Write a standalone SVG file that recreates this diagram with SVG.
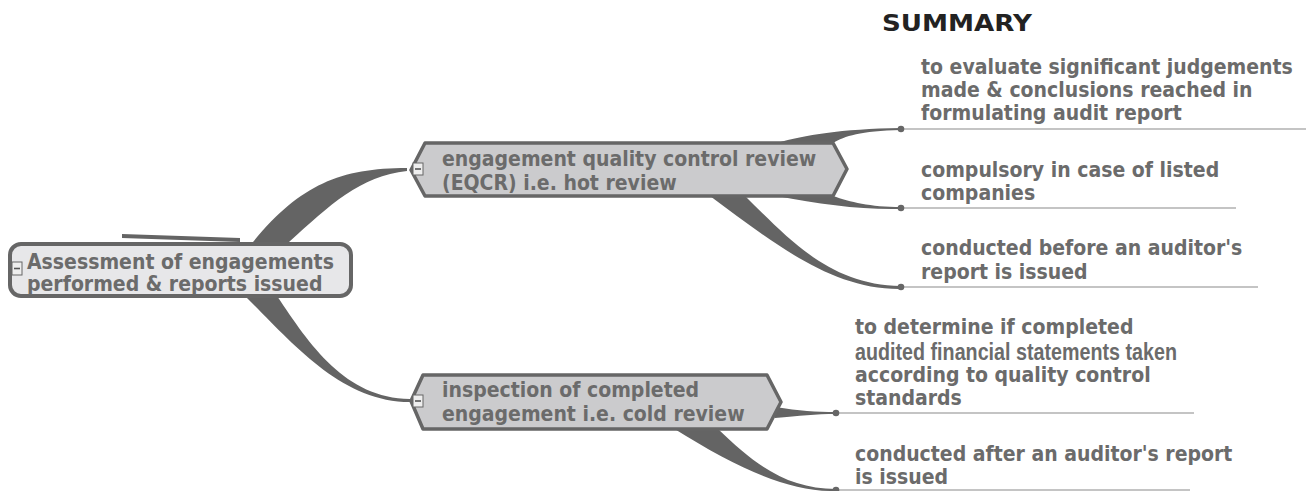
<svg xmlns="http://www.w3.org/2000/svg" width="1306" height="491" viewBox="0 0 1306 491">
<style>
.t{font-family:"DejaVu Sans Condensed","DejaVu Sans",sans-serif;font-weight:bold;font-size:21px;fill:#6b6b6b}
.n{font-family:"Liberation Sans Narrow","Liberation Sans",sans-serif;font-weight:bold;font-size:23px;fill:#6b6b6b}
.br{fill:#646464;stroke:none}
.ul{stroke:#8a8a8a;stroke-width:1.2;fill:none}
.dot{fill:#666}
.node{fill:#cbcbcd;stroke:#666;stroke-width:3.5;stroke-linejoin:round}
.root{fill:#e7e7e9;stroke:#666;stroke-width:4}
.tg{fill:#eee;stroke:#666;stroke-width:1}
.tgm{stroke:#555;stroke-width:1.6}
</style>
<rect width="1306" height="491" fill="#fff"/>
<text x="882" y="31" font-family="'DejaVu Sans',sans-serif" font-weight="bold" font-size="23" fill="#222" textLength="150" lengthAdjust="spacingAndGlyphs">SUMMARY</text>
<g id="connectors">
<path class="br" d="M253,242 C300,185 340,168 407,168 L407,171 C360,176 330,205 289,242 Z"/>
<path class="br" d="M122,234 L240,238 L240,242 L122,238 Z"/>
<path class="br" d="M245,296 L277,296 C310,345 345,398 410,399 L410,402 C340,402 290,340 245,296 Z"/>
<path class="br" d="M777,143 C805,135 840,129 901,128 L901,130 C860,131 845,136 833,143 Z"/>
<path class="br" d="M777,196 L833,196 C850,202 870,207 901,207 L901,209 C860,210 820,204 777,196 Z"/>
<path class="br" d="M710,196 L745,196 C790,240 830,285 901,286 L901,289 C830,290 770,240 710,196 Z"/>
<path class="br" d="M775,407 C800,411 815,412 836,412 L836,414 C815,414 800,416 775,418 Z"/>
<path class="br" d="M673,428 L717,428 C760,470 790,488 836,489 L836,491 C790,492 740,470 673,428 Z"/>
</g>
<g id="root">
<rect class="root" x="10" y="244" width="341" height="52" rx="11"/>
<rect class="tg" x="12" y="262" width="10" height="13"/>
<line class="tgm" x1="14" y1="268.5" x2="20" y2="268.5"/>
<text class="t" x="27" y="269">Assessment of engagements</text>
<text class="t" x="27" y="291">performed &amp; reports issued</text>
</g>
<g id="n-eqcr">
<path class="node" d="M425,143 L833,143 L847,169 L833,196 L425,196 L411,170 Z"/>
<rect class="tg" x="413" y="163" width="10" height="12"/>
<line class="tgm" x1="415" y1="169" x2="421" y2="169"/>
<text class="t" x="442" y="166">engagement quality control review</text>
<text class="t" x="442" y="190">(EQCR) i.e. hot review</text>
</g>
<g id="n-inspection">
<path class="node" d="M423,375 L767,375 L781,402 L767,429 L423,429 L411,401 Z"/>
<rect class="tg" x="413" y="395" width="10" height="12"/>
<line class="tgm" x1="415" y1="401" x2="421" y2="401"/>
<text class="t" x="442" y="397">inspection of completed</text>
<text class="t" x="442" y="421">engagement i.e. cold review</text>
</g>
<g id="c1">
<line class="ul" x1="901" y1="129" x2="1306" y2="129"/>
<circle class="dot" cx="901" cy="129" r="3.3"/>
<text class="t" x="921" y="74">to evaluate significant judgements</text>
<text class="t" x="921" y="97">made &amp; conclusions reached in</text>
<text class="t" x="921" y="120">formulating audit report</text>
</g>
<g id="c2">
<line class="ul" x1="901" y1="208" x2="1236" y2="208"/>
<circle class="dot" cx="901" cy="208" r="3.3"/>
<text class="t" x="921" y="177">compulsory in case of listed</text>
<text class="t" x="921" y="200">companies</text>
</g>
<g id="c3">
<line class="ul" x1="901" y1="287" x2="1258" y2="287"/>
<circle class="dot" cx="901" cy="287" r="3.3"/>
<text class="t" x="921" y="255">conducted before an auditor's</text>
<text class="t" x="921" y="279">report is issued</text>
</g>
<g id="c4">
<line class="ul" x1="836" y1="413" x2="1194" y2="413"/>
<circle class="dot" cx="836" cy="413" r="3.3"/>
<text class="t" x="855" y="334">to determine if completed</text>
<text class="n" x="855" y="360" textLength="322" lengthAdjust="spacingAndGlyphs">audited financial statements taken</text>
<text class="t" x="855" y="382">according to quality control</text>
<text class="t" x="855" y="405">standards</text>
</g>
<g id="c5">
<line class="ul" x1="836" y1="490" x2="1190" y2="490"/>
<circle class="dot" cx="836" cy="490" r="3.3"/>
<text class="t" x="855" y="461">conducted after an auditor's report</text>
<text class="t" x="855" y="484">is issued</text>
</g>
</svg>
